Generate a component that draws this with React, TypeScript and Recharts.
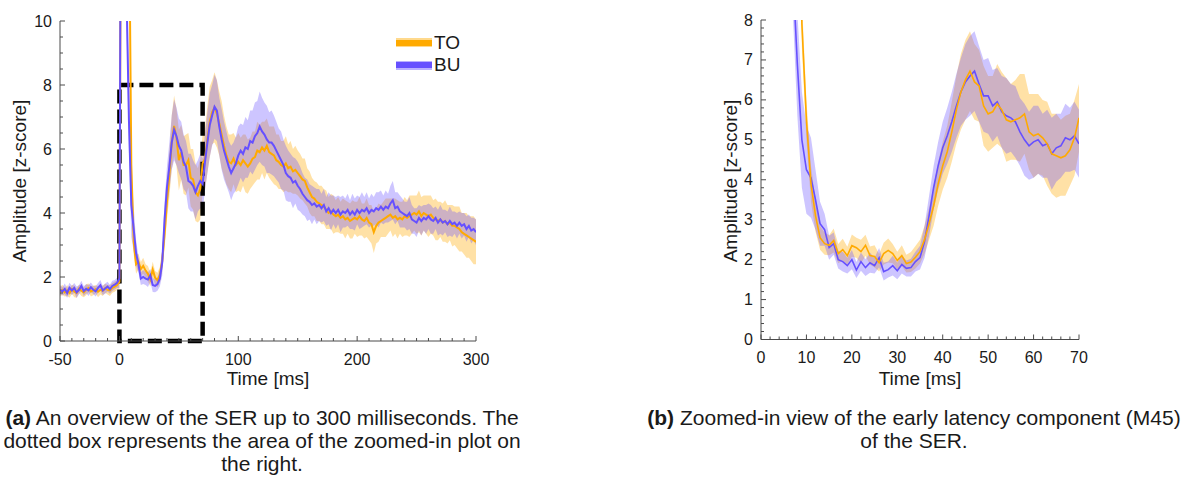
import React from 'react';
import { ComposedChart, Line, Area, XAxis, YAxis, ReferenceArea } from 'recharts';

const ORANGE = '#FFAA00';
const BLUE = '#6650FF';
const AXIS = '#4a4a4a';
const TEXT = '#1a1a1a';
const FONT = '"Liberation Sans", Arial, Helvetica, sans-serif';

// ---------- Left panel (overview, -50..300 ms, one sample every 2 ms) ----------
const LEFT_T0 = -50;
const LEFT_DT = 2;

const leftTO = [
  1.55, 1.6, 1.52, 1.58, 1.5, 1.62, 1.55, 1.5, 1.63, 1.57, 1.52, 1.6, 1.66, 1.55, 1.58, 1.62, 1.54, 1.6, 1.57, 1.65, 1.6, 1.58, 1.66, 1.7, 1.75,
  1.85, 22, 20, 17, 14, 5.5, 3.1, 2.4, 2.48, 2.25, 2.35, 2.2, 2.1, 1.92, 2.23, 1.98, 1.9, 2.06, 2.5, 3.35, 4.35, 5.2, 6.2, 6.72, 6.35, 5.65, 5.9, 5.5, 5.5, 5.65, 5.1, 5.05, 4.65, 4.55, 4.75, 5.55,
  5.7, 6.3, 6.85, 7.15, 7.3, 7.1, 6.8, 6.45, 6.1, 5.8,
  5.6, 5.55, 5.7, 5.5, 5.6, 5.5, 5.65, 5.55, 5.45, 5.55,
  5.7, 5.75, 5.95, 5.9, 6.05, 5.95, 6.1, 5.9, 5.85, 5.8,
  5.65, 5.6, 5.5, 5.45, 5.55, 5.4, 5.45, 5.3, 5.35, 5.25,
  5.15, 5.05, 5.0, 4.8, 4.65, 4.5, 4.45, 4.35, 4.3, 4.25,
  4.2, 4.1, 4.0, 4.05, 3.95, 3.9, 3.95, 3.85, 3.9, 3.8,
  3.85, 3.75, 3.8, 3.85, 3.8, 3.9, 3.8, 3.75, 3.85, 3.7,
  3.65, 3.4, 3.6, 3.7, 3.75, 3.8, 3.85, 3.9, 3.95, 3.85,
  3.9, 3.8, 3.85, 3.8, 3.9, 3.85, 3.9, 3.95, 4.0, 3.95,
  4.05, 3.9, 4.0, 3.95, 3.9, 3.95, 3.85, 3.8, 3.75, 3.8,
  3.7, 3.75, 3.65, 3.7, 3.6, 3.6, 3.55, 3.5, 3.4, 3.35,
  3.3, 3.25, 3.2, 3.15, 3.1,
];

const leftBU = [
  1.6, 1.55, 1.63, 1.5, 1.66, 1.58, 1.66, 1.52, 1.6, 1.72, 1.56, 1.63, 1.58, 1.68, 1.6, 1.55, 1.66, 1.74, 1.58, 1.64, 1.7, 1.62, 1.72, 1.76, 1.82,
  1.95, 24, 17, 10.8, 6.9, 4.25, 3.5, 2.75, 2.4, 1.95, 2.0, 1.95, 1.92, 2.05, 1.75, 1.72, 1.78, 1.95, 2.45, 3.8, 4.8, 5.45, 6.2, 6.6, 6.4, 6.1, 5.95, 5.6, 5.45, 5.0, 4.95, 4.85, 4.65, 4.85, 5.0, 4.9,
  5.6, 6.2, 6.75, 7.05, 7.32, 7.2, 6.7, 6.3, 5.95, 5.7,
  5.45, 5.25, 5.4, 5.55, 5.8, 5.95, 5.85, 6.05, 6.0, 6.25,
  6.2, 6.4, 6.5, 6.7, 6.55, 6.45, 6.3, 6.2, 6.2, 6.1,
  5.95, 5.8, 5.65, 5.5, 5.25, 5.15, 5.1, 4.95, 5.0, 4.85,
  4.75, 4.6, 4.5, 4.4, 4.35, 4.25, 4.3, 4.2, 4.25, 4.15,
  4.25, 4.05, 4.15, 4.0, 4.1, 4.0, 4.1, 3.95, 4.05, 4.0,
  4.1, 3.95, 4.05, 3.95, 4.1, 4.0, 4.1, 4.05, 4.15, 4.0,
  4.1, 4.05, 4.15, 4.1, 4.2, 4.1, 4.2, 4.15, 4.3, 4.4,
  4.15, 4.2, 4.05, 4.0, 3.95, 3.9, 4.0, 3.8, 3.75, 3.7,
  3.85, 3.75, 3.85, 3.8, 3.9, 3.8, 3.75, 3.85, 3.7, 3.8,
  3.7, 3.75, 3.65, 3.75, 3.65, 3.7, 3.6, 3.7, 3.6, 3.65,
  3.5, 3.6, 3.45, 3.5, 3.4,
];

const leftTOse = [
  0.14, 0.16, 0.13, 0.17, 0.15, 0.14, 0.18, 0.15, 0.13, 0.16, 0.15, 0.17, 0.14, 0.16, 0.15, 0.13, 0.17, 0.15, 0.16, 0.14, 0.15, 0.17, 0.15, 0.16, 0.15,
  0.2, 1, 1, 1, 1, 0.5, 0.4, 0.3, 0.25, 0.22, 0.25, 0.2, 0.24, 0.22, 0.25, 0.21, 0.23, 0.25, 0.32, 0.45, 0.55, 0.7, 0.85, 0.95, 0.9, 0.95, 0.85, 0.9, 0.95, 0.85, 0.9, 0.95, 0.9, 0.85, 0.95, 0.9,
  0.95, 1.05, 1.1, 1.0, 1.1, 1.05, 1.0, 1.05, 0.95, 0.9,
  0.85, 0.9, 0.8, 0.85, 0.9, 0.85, 0.8, 0.9, 0.85, 0.8,
  0.85, 0.8, 0.9, 0.85, 0.8, 0.9, 0.85, 0.8, 0.85, 0.9,
  0.8, 0.85, 0.75, 0.8, 0.85, 0.75, 0.8, 0.7, 0.75, 0.7,
  0.7, 0.65, 0.7, 0.6, 0.65, 0.6, 0.55, 0.6, 0.55, 0.6,
  0.55, 0.6, 0.5, 0.55, 0.6, 0.5, 0.55, 0.5, 0.55, 0.6,
  0.5, 0.55, 0.6, 0.5, 0.55, 0.6, 0.5, 0.55, 0.6, 0.55,
  0.6, 0.65, 0.55, 0.6, 0.5, 0.55, 0.6, 0.55, 0.5, 0.6,
  0.55, 0.6, 0.5, 0.55, 0.6, 0.55, 0.65, 0.6, 0.55, 0.6,
  0.65, 0.6, 0.55, 0.6, 0.65, 0.6, 0.55, 0.65, 0.6, 0.55,
  0.6, 0.65, 0.6, 0.55, 0.65, 0.6, 0.65, 0.7, 0.6, 0.65,
  0.7, 0.65, 0.7, 0.75, 0.7,
];

const leftBUse = [
  0.15, 0.13, 0.17, 0.15, 0.16, 0.14, 0.15, 0.18, 0.14, 0.16, 0.15, 0.14, 0.17, 0.15, 0.13, 0.16, 0.15, 0.17, 0.14, 0.16, 0.15, 0.14, 0.16, 0.15, 0.16,
  0.3, 1, 1, 1, 1, 1.0, 0.7, 0.4, 0.25, 0.2, 0.22, 0.2, 0.23, 0.2, 0.22, 0.2, 0.21, 0.25, 0.4, 0.55, 0.65, 0.75, 0.85, 0.95, 0.9, 0.85, 0.9, 0.85, 0.8, 0.85, 0.9, 0.8, 0.85, 0.8, 0.85, 0.8,
  0.9, 0.95, 1.0, 0.95, 1.0, 0.95, 0.9, 0.95, 0.9, 0.85,
  0.8, 0.85, 0.8, 0.85, 0.9, 0.85, 0.9, 0.95, 0.9, 0.95,
  1.0, 1.05, 1.0, 1.1, 1.05, 1.0, 1.05, 0.95, 1.0, 0.95,
  0.9, 0.85, 0.9, 0.8, 0.85, 0.8, 0.75, 0.8, 0.7, 0.75,
  0.7, 0.65, 0.6, 0.65, 0.55, 0.6, 0.5, 0.55, 0.5, 0.45,
  0.5, 0.45, 0.5, 0.55, 0.45, 0.5, 0.45, 0.55, 0.5, 0.45,
  0.5, 0.45, 0.55, 0.5, 0.45, 0.5, 0.55, 0.45, 0.5, 0.45,
  0.5, 0.45, 0.5, 0.55, 0.5, 0.45, 0.5, 0.45, 0.55, 0.6,
  0.5, 0.45, 0.5, 0.45, 0.4, 0.45, 0.5, 0.45, 0.4, 0.45,
  0.4, 0.45, 0.4, 0.45, 0.4, 0.45, 0.4, 0.35, 0.4, 0.45,
  0.4, 0.35, 0.4, 0.45, 0.4, 0.35, 0.4, 0.35, 0.4, 0.35,
  0.4, 0.35, 0.4, 0.35, 0.4,
];

// ---------- Right panel (zoom, 1..70 ms, one sample every 1 ms) ----------
const RIGHT_T0 = 1;
const RIGHT_DT = 1;

const rightTO = [
  18, 22, 21, 20, 18.5, 17, 15.5, 14, 7.9, 5.5,
  3.9, 3.1, 2.55, 2.4, 2.36, 2.48, 2.15, 2.25, 2.1, 2.35,
  2.3, 2.2, 2.36, 2.1, 2.08, 1.92, 2.15, 2.23, 2.15, 1.98,
  2.1, 1.9, 1.94, 2.06, 2.2, 2.5, 2.9, 3.35, 3.9, 4.35,
  4.7, 5.2, 5.75, 6.2, 6.5, 6.72, 6.45, 6.35, 5.85, 5.65,
  5.7, 5.9, 5.75, 5.5, 5.45, 5.5, 5.55, 5.65, 5.2, 5.1,
  5.15, 5.05, 4.9, 4.65, 4.6, 4.55, 4.6, 4.75, 5.05, 5.55,
];

const rightBU = [
  20, 24, 21, 17, 13.5, 10.8, 9.2, 6.9, 5.0, 4.25,
  4.05, 3.5, 2.9, 2.75, 2.3, 2.4, 2.0, 1.95, 1.85, 2.0,
  1.74, 1.95, 1.8, 1.92, 1.85, 2.05, 1.7, 1.75, 1.85, 1.72,
  1.88, 1.78, 1.8, 1.95, 2.05, 2.45, 3.1, 3.8, 4.35, 4.8,
  5.1, 5.45, 5.85, 6.2, 6.45, 6.6, 6.72, 6.4, 6.1, 6.1,
  5.85, 5.95, 5.7, 5.6, 5.55, 5.45, 5.2, 5.0, 4.85, 4.95,
  5.0, 4.85, 4.9, 4.65, 4.8, 4.85, 5.05, 5.0, 5.1, 4.9,
];

const rightTOse = [
  0.6, 0.6, 0.6, 0.6, 0.6, 0.6, 0.6, 0.6, 0.6, 0.5,
  0.45, 0.4, 0.3, 0.28, 0.25, 0.3, 0.24, 0.27, 0.22, 0.28,
  0.25, 0.3, 0.26, 0.23, 0.28, 0.22, 0.27, 0.3, 0.24, 0.22,
  0.26, 0.22, 0.25, 0.28, 0.3, 0.35, 0.4, 0.5, 0.55, 0.6,
  0.65, 0.75, 0.85, 0.95, 1.0, 1.0, 0.95, 0.9, 1.0, 0.95,
  0.9, 1.0, 0.95, 1.05, 0.95, 1.0, 1.1, 1.0, 0.95, 1.05,
  1.0, 0.95, 1.05, 1.0, 1.05, 0.95, 1.0, 0.9, 0.95, 0.85,
];

const rightBUse = [
  1, 1, 1, 1, 1, 1, 1, 1.3, 1.2, 1.1,
  1.0, 0.75, 0.55, 0.4, 0.3, 0.28, 0.22, 0.25, 0.2, 0.24,
  0.2, 0.23, 0.21, 0.25, 0.2, 0.24, 0.22, 0.2, 0.25, 0.21,
  0.23, 0.2, 0.22, 0.25, 0.3, 0.4, 0.5, 0.55, 0.6, 0.65,
  0.7, 0.75, 0.8, 0.85, 0.95, 1.0, 1.0, 0.95, 0.9, 0.95,
  0.9, 0.85, 0.9, 0.95, 0.85, 0.9, 0.85, 0.9, 0.85, 0.9,
  0.85, 0.8, 0.85, 0.9, 0.85, 0.8, 0.85, 0.8, 0.85, 0.85,
];

// ---------- Axes / ticks ----------
const leftXDomain = [-50, 300];
const leftYDomain = [0, 10];
const leftXMajor = [-50, 0, 100, 200, 300];
const leftXMinorStep = 10;
const leftYMajor = [0, 2, 4, 6, 8, 10];
const leftYMinorStep = 0.5;

const rightXDomain = [0, 70];
const rightYDomain = [0, 8];
const rightXMajor = [0, 10, 20, 30, 40, 50, 60, 70];
const rightXMinorStep = 2;
const rightYMajor = [0, 1, 2, 3, 4, 5, 6, 7, 8];
const rightYMinorStep = 0.2;

// zoom box drawn on the overview
const zoomBox = { x1: 0, x2: 70, y1: 0, y2: 8 };

const seriesNames = ['TO', 'BU'];
const xLabel = 'Time [ms]';
const yLabel = 'Amplitude [z-score]';

function tickList(lo: number, hi: number, step: number) {
  const n = Math.round((hi - lo) / step);
  const out: number[] = [];
  for (let i = 0; i <= n; i++) out.push(Math.round((lo + i * step) * 1000) / 1000);
  return out;
}

function buildRows(t0: number, dt: number, to: number[], bu: number[], toSe: number[], buSe: number[]) {
  return to.map((v, i) => ({
    t: t0 + i * dt,
    to: v,
    bu: bu[i],
    toBand: [v - toSe[i], v + toSe[i]],
    buBand: [bu[i] - buSe[i], bu[i] + buSe[i]],
  }));
}

const leftRows = buildRows(LEFT_T0, LEFT_DT, leftTO, leftBU, leftTOse, leftBUse);
const rightRows = buildRows(RIGHT_T0, RIGHT_DT, rightTO, rightBU, rightTOse, rightBUse);

const isMajor = (majors: number[], v: number) => majors.some((m) => Math.abs(m - v) < 1e-6);

const makeXTick = (majors: number[]) => (props: any) => {
  const { x, y, payload } = props;
  const v = payload.value;
  const major = isMajor(majors, v);
  return (
    <g>
      <line x1={x} x2={x} y1={y} y2={y - (major ? 5 : 3)} stroke={AXIS} strokeWidth={1} />
      {major && (
        <text x={x} y={y + 18} textAnchor="middle" dominantBaseline="central" fontSize={16} fill={TEXT} fontFamily={FONT}>
          {String(v)}
        </text>
      )}
    </g>
  );
};

const makeYTick = (majors: number[]) => (props: any) => {
  const { x, y, payload } = props;
  const v = payload.value;
  const major = isMajor(majors, v);
  return (
    <g>
      <line x1={x} x2={x + (major ? 5 : 3)} y1={y} y2={y} stroke={AXIS} strokeWidth={1} />
      {major && (
        <text x={x - 8} y={y} textAnchor="end" dominantBaseline="central" fontSize={16} fill={TEXT} fontFamily={FONT}>
          {String(v)}
        </text>
      )}
    </g>
  );
};

const abs = (left: number, top: number, extra: React.CSSProperties = {}): React.CSSProperties => ({
  position: 'absolute',
  left,
  top,
  ...extra,
});

function LegendItem({ top, color, band, label }: { top: number; color: string; band: string; label: string }) {
  return (
    <>
      <div style={abs(396, top - 4.5, { width: 36, height: 9, background: band })}>
        <div style={{ position: 'absolute', left: 0, top: 1.5, width: 36, height: 6, background: color }} />
      </div>
      <div style={abs(434, top, { transform: 'translateY(-50%)', fontSize: 19, color: TEXT, lineHeight: '20px' })}>{label}</div>
    </>
  );
}

export default function App() {
  return (
    <div style={{ position: 'absolute', left: 0, top: 0, width: 1187, height: 479, background: '#fff', fontFamily: FONT, overflow: 'hidden' }}>
      {/* Left chart */}
      <div style={abs(0, 0)}>
        <ComposedChart width={500} height={380} data={leftRows} margin={{ top: 21, right: 24, left: 0, bottom: 9 }}>
          <XAxis
            dataKey="t"
            type="number"
            domain={leftXDomain}
            allowDataOverflow
            ticks={tickList(leftXDomain[0], leftXDomain[1], leftXMinorStep)}
            interval={0}
            tick={makeXTick(leftXMajor)}
            tickLine={false}
            tickSize={0}
            tickMargin={0}
            height={30}
            axisLine={{ stroke: AXIS, strokeWidth: 1 }}
          />
          <YAxis
            type="number"
            domain={leftYDomain}
            allowDataOverflow
            ticks={tickList(leftYDomain[0], leftYDomain[1], leftYMinorStep)}
            interval={0}
            tick={makeYTick(leftYMajor)}
            tickLine={false}
            tickSize={0}
            tickMargin={0}
            width={60}
            axisLine={{ stroke: AXIS, strokeWidth: 1 }}
          />
          <Area dataKey="toBand" type="linear" stroke="none" fill={ORANGE} fillOpacity={0.35} isAnimationActive={false} dot={false} activeDot={false} />
          <Area dataKey="buBand" type="linear" stroke="none" fill={BLUE} fillOpacity={0.33} isAnimationActive={false} dot={false} activeDot={false} />
          <Line dataKey="to" type="linear" stroke={ORANGE} strokeWidth={2} dot={false} activeDot={false} isAnimationActive={false} />
          <Line dataKey="bu" type="linear" stroke={BLUE} strokeWidth={2} dot={false} activeDot={false} isAnimationActive={false} />
          <ReferenceArea
            x1={zoomBox.x1}
            x2={zoomBox.x2}
            y1={zoomBox.y1}
            y2={zoomBox.y2}
            fill="none"
            fillOpacity={0}
            stroke="#000"
            strokeWidth={4.5}
            strokeDasharray="14 6"
            ifOverflow="visible"
          />
        </ComposedChart>
      </div>

      {/* Right chart */}
      <div style={abs(700, 0)}>
        <ComposedChart width={400} height={380} data={rightRows} margin={{ top: 20, right: 21, left: 0, bottom: 10.5 }}>
          <XAxis
            dataKey="t"
            type="number"
            domain={rightXDomain}
            allowDataOverflow
            ticks={tickList(rightXDomain[0], rightXDomain[1], rightXMinorStep)}
            interval={0}
            tick={makeXTick(rightXMajor)}
            tickLine={false}
            tickSize={0}
            tickMargin={0}
            height={30}
            axisLine={{ stroke: AXIS, strokeWidth: 1 }}
          />
          <YAxis
            type="number"
            domain={rightYDomain}
            allowDataOverflow
            ticks={tickList(rightYDomain[0], rightYDomain[1], rightYMinorStep)}
            interval={0}
            tick={makeYTick(rightYMajor)}
            tickLine={false}
            tickSize={0}
            tickMargin={0}
            width={61}
            axisLine={{ stroke: AXIS, strokeWidth: 1 }}
          />
          <Area dataKey="toBand" type="linear" stroke="none" fill={ORANGE} fillOpacity={0.35} isAnimationActive={false} dot={false} activeDot={false} />
          <Area dataKey="buBand" type="linear" stroke="none" fill={BLUE} fillOpacity={0.33} isAnimationActive={false} dot={false} activeDot={false} />
          <Line dataKey="bu" type="linear" stroke={BLUE} strokeWidth={1.6} dot={false} activeDot={false} isAnimationActive={false} />
          <Line dataKey="to" type="linear" stroke={ORANGE} strokeWidth={1.6} dot={false} activeDot={false} isAnimationActive={false} />
        </ComposedChart>
      </div>

      {/* Legend */}
      <LegendItem top={42.5} color={ORANGE} band="rgba(255,170,0,0.45)" label={seriesNames[0]} />
      <LegendItem top={65} color={BLUE} band="rgba(102,80,255,0.45)" label={seriesNames[1]} />

      {/* Axis titles */}
      <div style={abs(20, 181, { transform: 'translate(-50%, -50%) rotate(-90deg)', fontSize: 19, color: TEXT, whiteSpace: 'nowrap' })}>{yLabel}</div>
      <div style={abs(731, 181, { transform: 'translate(-50%, -50%) rotate(-90deg)', fontSize: 19, color: TEXT, whiteSpace: 'nowrap' })}>{yLabel}</div>
      <div style={abs(268, 379, { transform: 'translate(-50%, -50%)', fontSize: 19, color: TEXT, whiteSpace: 'nowrap' })}>{xLabel}</div>
      <div style={abs(920, 379, { transform: 'translate(-50%, -50%)', fontSize: 19, color: TEXT, whiteSpace: 'nowrap' })}>{xLabel}</div>

      {/* Captions */}
      <div style={abs(262 - 320, 405.5, { width: 640, textAlign: 'center', fontSize: 21, lineHeight: '23px', color: TEXT })}>
        <b>(a)</b> An overview of the SER up to 300 milliseconds. The
        <br />
        dotted box represents the area of the zoomed-in plot on
        <br />
        the right.
      </div>
      <div style={abs(914 - 320, 405.5, { width: 640, textAlign: 'center', fontSize: 21, lineHeight: '23px', color: TEXT })}>
        <b>(b)</b> Zoomed-in view of the early latency component (M45)
        <br />
        of the SER.
      </div>
    </div>
  );
}
